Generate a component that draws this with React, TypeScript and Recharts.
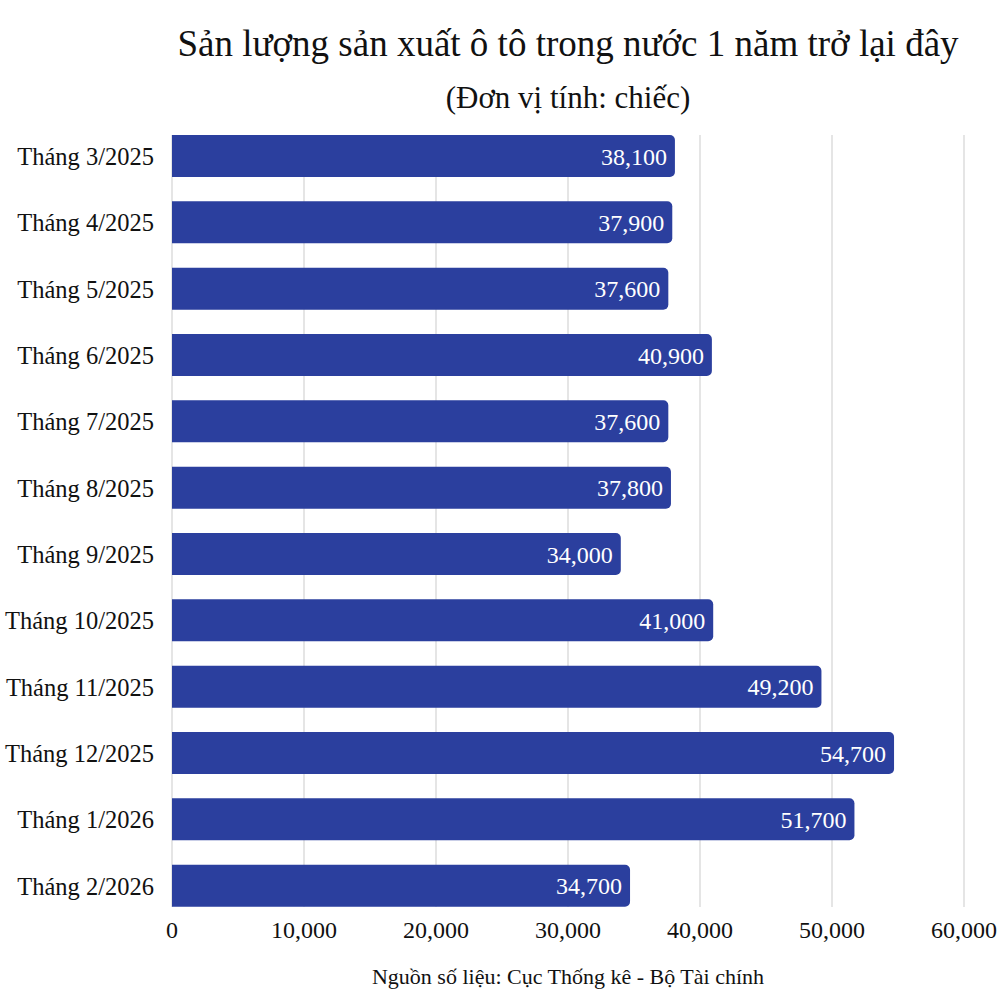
import React from "react";
import { BarChart, Bar, XAxis, YAxis, CartesianGrid, LabelList } from "recharts";

const months = [
  "Tháng 3/2025",
  "Tháng 4/2025",
  "Tháng 5/2025",
  "Tháng 6/2025",
  "Tháng 7/2025",
  "Tháng 8/2025",
  "Tháng 9/2025",
  "Tháng 10/2025",
  "Tháng 11/2025",
  "Tháng 12/2025",
  "Tháng 1/2026",
  "Tháng 2/2026",
];
const production = [38100, 37900, 37600, 40900, 37600, 37800, 34000, 41000, 49200, 54700, 51700, 34700];
const xTicks = [0, 10000, 20000, 30000, 40000, 50000, 60000];

const title = "Sản lượng sản xuất ô tô trong nước 1 năm trở lại đây";
const subtitle = "(Đơn vị tính: chiếc)";
const footer = "Nguồn số liệu: Cục Thống kê - Bộ Tài chính";

const data = months.map((m, i) => ({ month: m, value: production[i] }));

const FONT = "'Liberation Serif', 'Times New Roman', serif";
const fmt = (v: number) => v.toLocaleString("en-US");

export default function App() {
  return (
    <div style={{ position: "absolute", left: 0, top: 0, width: 1000, height: 1000, background: "#fff", fontFamily: FONT }}>
      <BarChart
        width={1000}
        height={1000}
        data={data}
        layout="vertical"
        margin={{ top: 135, right: 36, bottom: 63, left: 0 }}
        style={{ fontFamily: FONT }}
      >
        <CartesianGrid horizontal={false} vertical={true} stroke="#dcdcdc" strokeWidth={1.5} />
        <XAxis
          type="number"
          domain={[0, 60000]}
          ticks={xTicks}
          tickFormatter={fmt}
          axisLine={false}
          tickLine={false}
          tickSize={0}
          tickMargin={14}
          height={30}
          interval={0}
          tick={{ fill: "#111", fontSize: 24, fontFamily: FONT }}
        />
        <YAxis
          type="category"
          dataKey="month"
          width={172}
          axisLine={false}
          tickLine={false}
          tickSize={0}
          tickMargin={18}
          interval={0}
          padding={{ top: -12, bottom: -12 }}
          tick={{ fill: "#111", fontSize: 24.5, fontFamily: FONT }}
        />
        <Bar dataKey="value" fill="#2B3F9E" barSize={42} radius={[0, 5, 5, 0]} isAnimationActive={false}>
          <LabelList
            dataKey="value"
            position="insideRight"
            offset={8}
            formatter={(v: any) => fmt(Number(v))}
            style={{ fill: "#fff", fontSize: 24, fontFamily: FONT }}
          />
        </Bar>
      </BarChart>
      <svg width={1000} height={1000} style={{ position: "absolute", left: 0, top: 0, pointerEvents: "none" }}>
        <text x={568} y={56} textAnchor="middle" fontSize={37} fontFamily={FONT} fill="#111">{title}</text>
        <text x={568} y={108} textAnchor="middle" fontSize={31} fontFamily={FONT} fill="#111">{subtitle}</text>
        <text x={568} y={984} textAnchor="middle" fontSize={22} fontFamily={FONT} fill="#111">{footer}</text>
      </svg>
    </div>
  );
}
